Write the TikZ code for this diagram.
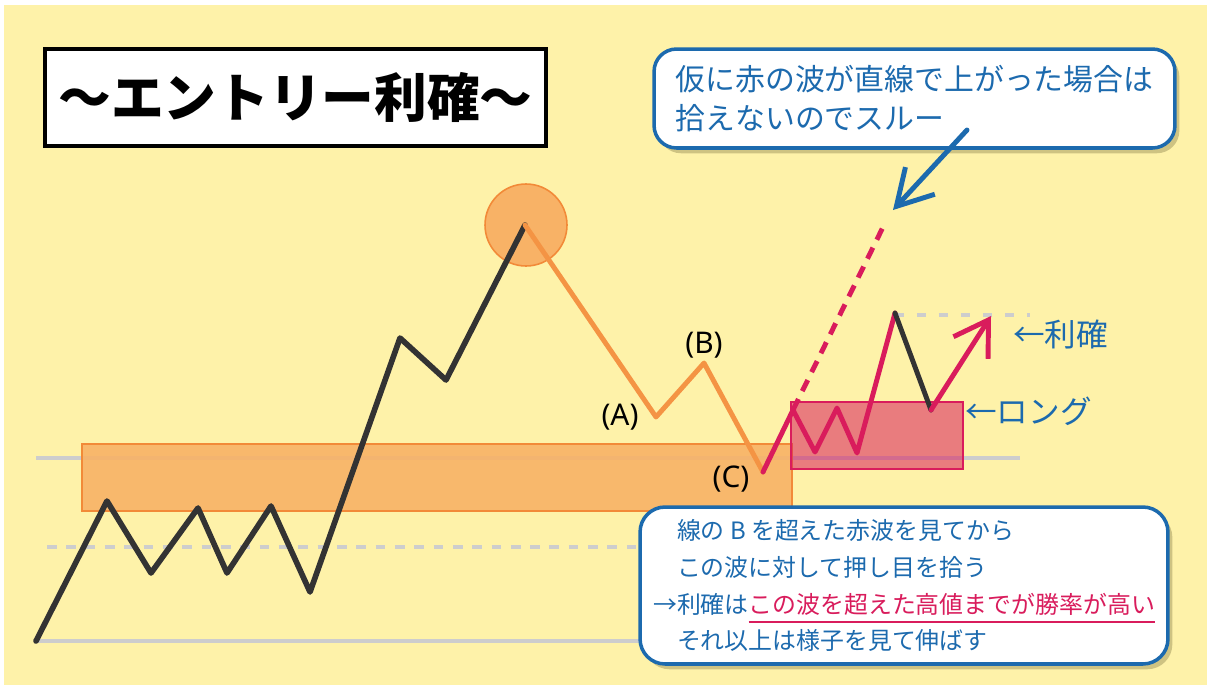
\documentclass[tikz,border=0pt]{standalone}
\usepackage{fontspec}
\newfontfamily\cjk{Noto Sans CJK JP}
\newfontfamily\lblfont{Noto Sans}
\usetikzlibrary{arrows.meta,shadows}

\definecolor{bgyellow}{HTML}{FEF2A9}
\definecolor{guidegray}{HTML}{CDCDCD}
\definecolor{zoneorange}{HTML}{F8B266}
\definecolor{edgeorange}{HTML}{F28A38}
\definecolor{waveorange}{HTML}{F49444}
\definecolor{waveblack}{HTML}{333333}
\definecolor{wavered}{HTML}{D91C5C}
\definecolor{noteblue}{HTML}{1C6AAE}
\definecolor{shadowtone}{HTML}{A89E63}

\newcommand{\redunder}[1]{\sbox0{\textcolor{wavered}{#1}}\rlap{\textcolor{wavered}{\rule[-5.5pt]{\wd0}{1.1pt}}}\usebox0}

\tikzset{
  guide/.style={guidegray, line width=2pt},
  wave/.style={line width=3.2pt, line join=round, line cap=round},
  callout/.style={draw=noteblue, line width=2pt, fill=white, rounded corners=0.45cm,
    drop shadow={shadow xshift=2.5pt, shadow yshift=-3pt, fill=shadowtone, opacity=.55}},
  sidelabel/.style={text=noteblue, font=\cjk\fontsize{18}{20}\selectfont, inner sep=0pt},
  wavelabel/.style={text=black, font=\lblfont\fontsize{17}{20}\selectfont, inner sep=0pt}
}

\begin{document}
\begin{tikzpicture}[x=0.02cm,y=-0.02cm]
\fill[white] (0,0) rectangle (1209,687);
\fill[bgyellow] (4,5) rectangle (1207,685);
\useasboundingbox (0,0) rectangle (1209,687);

% guide lines
\draw[guide] (36,458) -- (1020,458);
\draw[guide, dash pattern=on 5.5pt off 5.5pt] (47,547) -- (1000,547);
\draw[guide] (36,641) -- (1000,641);
\draw[guide, dash pattern=on 5pt off 7.5pt] (895,315) -- (1030,315);

% zones
\draw[fill=zoneorange, draw=edgeorange, line width=0.8pt, fill opacity=.9] (82,444) rectangle (792,511);
\draw[fill=wavered, fill opacity=.55, draw=wavered, line width=0.9pt] (791,402) rectangle (963,469);
\draw[fill=zoneorange, draw=edgeorange, line width=0.9pt] (526,225) circle[radius=0.82cm];

\coordinate (top) at (525,225);
\coordinate (A) at (656,417);
\coordinate (B) at (704,363);
\coordinate (C) at (763,472);
\coordinate (zig) at (793,410);
\coordinate (high) at (895,313);
\coordinate (dip) at (931,410);
\coordinate (target) at (991,316);
\coordinate (skip) at (886,221);
\coordinate (arrowtail) at (967,130);
\coordinate (arrowtip) at (893,210);

\draw[wave, waveblack] (36,641) -- (107,501) -- (151,573) -- (198,508) -- (227,573)
  -- (271,506) -- (310,592) -- (400,338) -- (446,380) -- (top);
\draw[wave, waveorange, line width=2.8pt] (top) -- (A) -- (B) -- (C);
\draw[wave, wavered, line width=2.8pt] (C) -- (zig) -- (815,452) -- (837,408) -- (857,453) -- (high);
\draw[wave, waveblack, line width=2.8pt] (high) -- (dip);
\draw[wave, wavered, line width=2.8pt, -{Straight Barb[length=0.66cm, width=0.82cm]}] (dip) -- (target);
\draw[wavered, line width=2.8pt, dash pattern=on 7pt off 5pt] (zig) -- (skip);

\node[wavelabel] (labA) at (620,417) {(A)};
\node[wavelabel] (labB) at (704,345) {(B)};
\node[wavelabel] (labC) at (731,479) {(C)};

\node[draw=black, line width=2.3pt, fill=white, minimum width=10.02cm, minimum height=1.94cm,
  font=\cjk\bfseries\fontsize{30}{32}\selectfont] (title) at (295.5,97.5) {〜エントリー利確〜};

\node[callout, minimum width=10.42cm, minimum height=1.98cm, align=left, text=noteblue,
  font=\cjk\fontsize{17}{22.7}\selectfont] (note) at (914.5,98.5)
  {仮に赤の波が直線で上がった場合は\\拾えないのでスルー};
\draw[noteblue, line width=2.8pt, line cap=round, -{Straight Barb[length=0.7cm, width=0.8cm]}] (arrowtail) -- (arrowtip);

\node[callout, rounded corners=0.5cm, minimum width=10.56cm, minimum height=3.14cm, align=left, text=noteblue,
  font=\cjk\fontsize{13.6}{21}\selectfont] (rule) at (904,585.5)
  {\hspace*{1em}線の B を超えた赤波を見てから\\
   \hspace*{1em}この波に対して押し目を拾う\\
   →利確は\redunder{この波を超えた高値までが勝率が高い}\\
   \hspace*{1em}それ以上は様子を見て伸ばす};

\node[sidelabel, anchor=west] (take) at (1013,334) {←利確};
\node[sidelabel, anchor=west] (long) at (965,411) {←ロング};
\end{tikzpicture}
\end{document}
